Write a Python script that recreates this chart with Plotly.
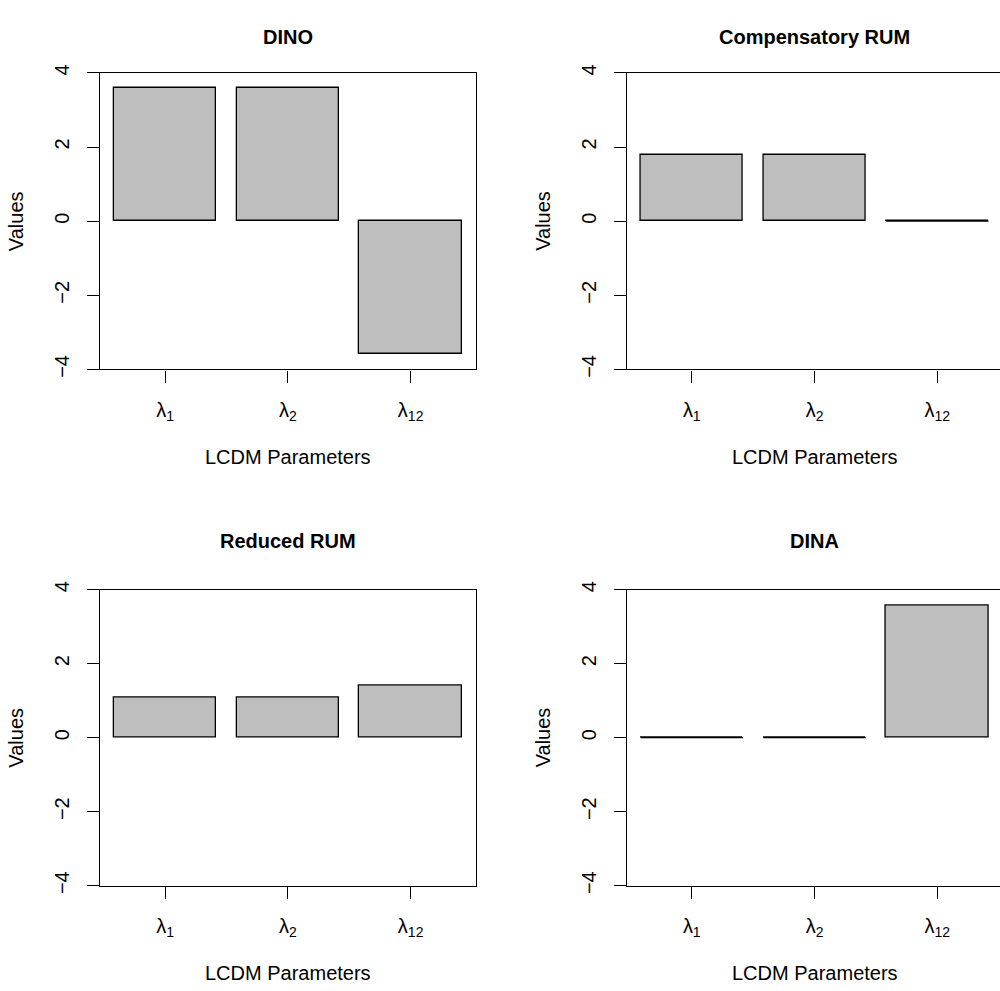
import plotly.graph_objects as go

# ---- data ----
panel_titles = ["DINO", "Compensatory RUM", "Reduced RUM", "DINA"]
tick_labels = ["λ<sub>1</sub>", "λ<sub>2</sub>", "λ<sub>12</sub>"]
dino = [3.59, 3.59, -3.59]
compensatory_rum = [1.79, 1.79, 0.0]
reduced_rum = [1.08, 1.08, 1.41]
dina = [0.0, 0.0, 3.58]
series = [dino, compensatory_rum, reduced_rum, dina]
y_ticks = [-4, -2, 0, 2, 4]
y_tick_text = ["\u22124", "\u22122", "0", "2", "4"]

# R barplot geometry: width 1, space 0.2
bar_width = 1.0
space = 0.2
centers = [space + bar_width / 2 + i * (bar_width + space) for i in range(3)]
x_lo = space - 0.04 * (3 * (bar_width + space) - space)
x_hi_full = 3 * (bar_width + space) + 0.04 * (3 * (bar_width + space) - space)

W, H = 1000, 991
FONT = "Liberation Sans, Arial, Helvetica, sans-serif"
GRAY = "#BEBEBE"

def px(x):
    return x / W

def py(y):
    return 1 - y / H

# plot-box pixel positions (left, right, top, bottom) and title centre y
box_w = 375.7
boxes = [
    (100.0, 100.0 + box_w, 65.0, 366.7, 28.0),
    (626.7, 626.7 + box_w, 65.0, 366.7, 28.0),
    (100.0, 100.0 + box_w, 590.7, 892.0, 541.5),
    (626.7, 626.7 + box_w, 590.7, 892.0, 541.5),
]

fig = go.Figure()
annotations = []

for i, (title, vals) in enumerate(zip(panel_titles, series)):
    l, r, t, b, ty = boxes[i]
    ax = "" if i == 0 else str(i + 1)
    xa, ya = "x" + ax, "y" + ax
    r_vis = min(r, W)
    x_hi = x_lo + (x_hi_full - x_lo) * (r_vis - l) / (r - l)
    clipped = r > W

    fig.add_trace(go.Bar(
        x=centers, y=vals, width=bar_width,
        marker=dict(color=GRAY, line=dict(color="black", width=1.3)),
        xaxis=xa, yaxis=ya, showlegend=False, hoverinfo="skip",
    ))
    # zero-valued bars are drawn by R as a flat outline at 0
    for c, v in zip(centers, vals):
        if v == 0:
            fig.add_trace(go.Scatter(
                x=[c - bar_width / 2, c + bar_width / 2], y=[v, v],
                mode="lines", line=dict(color="black", width=1.2),
                xaxis=xa, yaxis=ya, showlegend=False, hoverinfo="skip",
            ))

    fig.layout["xaxis" + ax] = dict(
        domain=[px(l), px(r_vis)], range=[x_lo, x_hi], anchor=ya,
        tickvals=centers, ticktext=tick_labels, ticks="outside", ticklen=12,
        tickwidth=1.3, tickcolor="black", showline=True, linecolor="black",
        linewidth=1.3, mirror=True, showgrid=False, zeroline=False,
        tickfont=dict(family=FONT, size=20, color="black"),
        ticklabelstandoff=10, fixedrange=True,
    )
    fig.layout["yaxis" + ax] = dict(
        domain=[py(b), py(t)], range=[-4, 4], anchor=xa,
        tickvals=y_ticks, ticktext=y_tick_text,
        ticks="outside", ticklen=12, tickwidth=1.3, tickcolor="black",
        showline=True, linecolor="black", linewidth=1.3,
        mirror=(not clipped), showgrid=False, zeroline=False,
        tickangle=-90, tickfont=dict(family=FONT, size=20, color="black"),
        ticklabelstandoff=10, fixedrange=True,
    )
    cx = (l + r) / 2
    cy = (t + b) / 2
    annotations.append(dict(
        text="<b>" + title + "</b>", x=px(cx), y=py(ty), xref="paper", yref="paper",
        xanchor="center", yanchor="middle", showarrow=False,
        font=dict(family=FONT, size=20, color="black"),
    ))
    annotations.append(dict(
        text="LCDM Parameters", x=px(cx), y=py(b + 89), xref="paper", yref="paper",
        xanchor="center", yanchor="middle", showarrow=False,
        font=dict(family=FONT, size=20, color="black"),
    ))
    annotations.append(dict(
        text="Values", x=px(l - 84), y=py(cy), xref="paper", yref="paper",
        xanchor="center", yanchor="middle", showarrow=False, textangle=-90,
        font=dict(family=FONT, size=20, color="black"),
    ))

fig.update_layout(
    width=W, height=H, margin=dict(l=0, r=0, t=0, b=0),
    paper_bgcolor="white", plot_bgcolor="white",
    annotations=annotations, bargap=0,
)

fig.write_html(
    "out.html",
    config={"displayModeBar": False},
    post_script="document.body.style.margin='0';document.body.style.overflow='hidden';",
)
